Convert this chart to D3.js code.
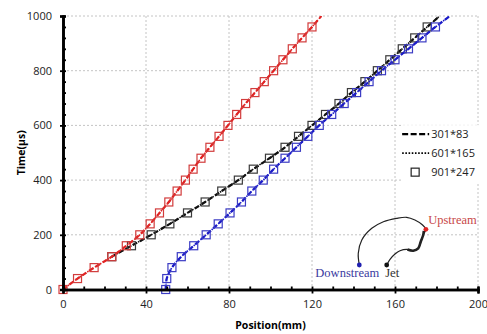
<!DOCTYPE html>
<html>
<head>
<meta charset="utf-8">
<script src="https://cdn.jsdelivr.net/npm/d3@7"></script>
<style>
  body { margin: 0; background: #fff; }
  svg { display: block; }
</style>
</head>
<body>
<div class="chart"></div>
<script>
// time axis values (us), one marker every 40
var timesAll = d3.range(0, 1001, 40);
var timesJet = d3.range(120, 1001, 40);

// position (mm) for each probe
var upstreamPos = [0, 7, 15, 23.5, 30.5, 37, 42, 46.5, 51, 55, 59, 62.7, 66.5, 70.8, 75.2, 79.5,
                   83.7, 88, 92.5, 97, 101.5, 106, 110.5, 115.2, 120, 124.5];
var jetPos = [23.5, 33, 42.5, 51.5, 60, 68.5, 76.5, 84.5, 91.7, 99.5, 107, 113.5, 120, 126.5,
              133, 139, 145.5, 151.5, 157.5, 163.5, 169.5, 175.5, 181.5];
var downstreamPos = [49.5, 50, 52.5, 57, 63, 69, 74.8, 80.5, 86, 91, 96.5, 101.5, 107, 112.5,
                     118, 123.5, 129.5, 135.5, 141.5, 147.5, 153.5, 160, 166.5, 173, 179.5, 186.5];

var xTicks = [0, 40, 80, 120, 160, 200];
var yTicks = [0, 200, 400, 600, 800, 1000];
var legendLabels = ["301*83", "601*165", "901*247"];

// sketch of the nozzle inset (in chart units)
var insetCurve = [[142.8, 89.6], [142.3, 132.4], [144.0, 181], [148.8, 223.8], [154.4, 247.9],
  [160.8, 260.3], [165.6, 264], [169.6, 254.1], [173.3, 235.8], [174.9, 220.1], [173.6, 199.3],
  [172.4, 174.8], [171.2, 150.6], [168.8, 141.9], [165.6, 147], [162.4, 141.9], [160, 129.8],
  [157.6, 110.4], [156, 89.6]];
var insetThick = [[173.9, 214], [173.6, 199.3], [172.4, 174.8], [171.2, 150.6], [168.8, 141.9], [166, 146]];

var series = [
  {name: "Upstream", color: "#e02424", mark: "#d23c3c", t: timesAll, p: upstreamPos},
  {name: "Jet", color: "#111", mark: "#3a3a3a", t: timesJet, p: jetPos},
  {name: "Downstream", color: "#1c1cc8", mark: "#3c3cc4", t: timesAll, p: downstreamPos}
];

var margin = {top: 16, right: 9, bottom: 44.5, left: 63},
    width = 487 - margin.left - margin.right,
    height = 334 - margin.top - margin.bottom;

var svg = d3.select(".chart")
  .append("svg")
    .attr("width", 487)
    .attr("height", 334)
  .append("g")
    .attr("transform", "translate(" + margin.left + "," + margin.top + ")");

var x = d3.scaleLinear().domain([0, 200]).range([0, width]);
var y = d3.scaleLinear().domain([0, 1000]).range([height, 0]);

// grid
svg.append("g")
  .selectAll("line.gx")
  .data(xTicks.slice(1))
  .join("line")
    .attr("x1", d => x(d)).attr("x2", d => x(d))
    .attr("y1", 0).attr("y2", height)
    .attr("stroke", "#c4c4c4").attr("stroke-dasharray", "2,2");
svg.append("g")
  .selectAll("line.gy")
  .data(yTicks.slice(1))
  .join("line")
    .attr("x1", 0).attr("x2", width)
    .attr("y1", d => y(d)).attr("y2", d => y(d))
    .attr("stroke", "#c4c4c4").attr("stroke-dasharray", "2,2");

// clip for the data lines
svg.append("clipPath").attr("id", "clip")
  .append("rect").attr("x", -6).attr("y", 0).attr("width", width + 6).attr("height", height + 6);

var line = d3.line()
  .x(d => x(d[1]))
  .y(d => y(d[0]))
  .curve(d3.curveCatmullRom);

var plot = svg.append("g").attr("clip-path", "url(#clip)");

// draw jet first so upstream sits on top at the overlap
[series[1], series[2], series[0]].forEach(function(s) {
  var pts = s.t.map((t, i) => [t, s.p[i]]);

  plot.append("path")
    .datum(pts)
    .attr("fill", "none")
    .attr("stroke", s.color)
    .attr("stroke-width", 2.2)
    .attr("stroke-dasharray", "5,3")
    .attr("d", line);

  plot.append("path")
    .datum(pts)
    .attr("fill", "none")
    .attr("stroke", s.color)
    .attr("stroke-width", 1.6)
    .attr("stroke-dasharray", "1.5,1.5")
    .attr("d", line);

  plot.append("g")
    .selectAll("rect")
    .data(pts.filter(d => d[0] < 1000))
    .join("rect")
      .attr("x", d => x(d[1]) - 4)
      .attr("y", d => y(d[0]) - 4)
      .attr("width", 8)
      .attr("height", 8)
      .attr("fill", "none")
      .attr("stroke", s.mark)
      .attr("stroke-width", 1.2);
});

// axes
var tickFont = "'Open Sans', sans-serif";

svg.append("g")
  .call(d3.axisLeft(y).tickValues(yTicks).tickSize(3).tickPadding(8).tickFormat(d3.format("d")));
svg.append("g")
  .call(d3.axisRight(y).tickValues(d3.range(0, 1001, 40)).tickSize(3).tickFormat(""));

svg.append("g")
  .attr("transform", "translate(0," + height + ")")
  .call(d3.axisBottom(x).tickValues(xTicks).tickSize(4).tickPadding(7).tickFormat(d3.format("d")));
svg.append("g")
  .attr("transform", "translate(0," + height + ")")
  .call(d3.axisTop(x).tickValues(d3.range(0, 201, 10)).tickSize(3).tickFormat(""));

svg.selectAll(".domain").attr("stroke", "#000").attr("stroke-width", 2.6);
svg.selectAll(".tick line").attr("stroke", "#000").attr("stroke-width", 1.8);
svg.selectAll(".tick text")
  .style("font-family", tickFont)
  .style("font-size", "11px")
  .attr("fill", "#222");

svg.append("text")
  .attr("x", width / 2)
  .attr("y", height + 39)
  .attr("text-anchor", "middle")
  .style("font-family", tickFont)
  .style("font-size", "10.5px")
  .style("font-weight", "bold")
  .text("Position(mm)");

svg.append("text")
  .attr("transform", "translate(" + (-38) + "," + (height / 2) + ")rotate(-90)")
  .attr("text-anchor", "middle")
  .style("font-family", tickFont)
  .style("font-size", "10.5px")
  .style("font-weight", "bold")
  .text("Time(\u03bcs)");

// legend
var lg = svg.append("g").attr("transform", "translate(" + (x(162) + 3) + "," + (y(568)) + ")");
lg.append("rect").attr("x", -1).attr("y", -9).attr("width", 80).attr("height", 58).attr("fill", "#fff");
lg.append("line").attr("x1", 0).attr("x2", 27).attr("y1", 0).attr("y2", 0)
  .attr("stroke", "#000").attr("stroke-width", 2.2).attr("stroke-dasharray", "6,2.5");
lg.append("line").attr("x1", 0).attr("x2", 27).attr("y1", 19).attr("y2", 19)
  .attr("stroke", "#000").attr("stroke-width", 1.8).attr("stroke-dasharray", "1.6,1.6");
lg.append("rect").attr("x", 9).attr("y", 34).attr("width", 8).attr("height", 8)
  .attr("fill", "none").attr("stroke", "#222").attr("stroke-width", 1.2);
lg.selectAll("text.lab")
  .data(legendLabels)
  .join("text")
    .attr("x", 29)
    .attr("y", (d, i) => 4 + i * 19)
    .style("font-family", tickFont)
    .style("font-size", "11px")
    .attr("fill", "#222")
    .text(d => d);

// inset sketch
var inset = svg.append("g");
var sketch = d3.line().x(d => x(d[0])).y(d => y(d[1])).curve(d3.curveCatmullRom);
inset.append("path").datum(insetCurve)
  .attr("fill", "none").attr("stroke", "#222").attr("stroke-width", 1.2).attr("d", sketch);
inset.append("path").datum(insetThick)
  .attr("fill", "none").attr("stroke", "#222").attr("stroke-width", 2.6).attr("d", sketch);

var dots = [
  {p: insetCurve[0], c: "#2020b0"},
  {p: insetCurve[9], c: "#e02424"},
  {p: insetCurve[insetCurve.length - 1], c: "#111"}
];
inset.selectAll("circle")
  .data(dots)
  .join("circle")
    .attr("cx", d => x(d.p[0]))
    .attr("cy", d => y(d.p[1]))
    .attr("r", 2.4)
    .attr("fill", d => d.c);

var serif = "'Liberation Serif', 'DejaVu Serif', serif";
inset.append("text").attr("x", x(176)).attr("y", y(241))
  .style("font-family", serif).style("font-size", "12.5px").attr("fill", "#c84848").text("Upstream");
inset.append("text").attr("x", x(152.4)).attr("y", y(47)).attr("text-anchor", "end")
  .style("font-family", serif).style("font-size", "12.5px").attr("fill", "#3a3aa0").text("Downstream");
inset.append("text").attr("x", x(155.3)).attr("y", y(47))
  .style("font-family", serif).style("font-size", "12.5px").attr("fill", "#333").text("Jet");
</script>
</body>
</html>
